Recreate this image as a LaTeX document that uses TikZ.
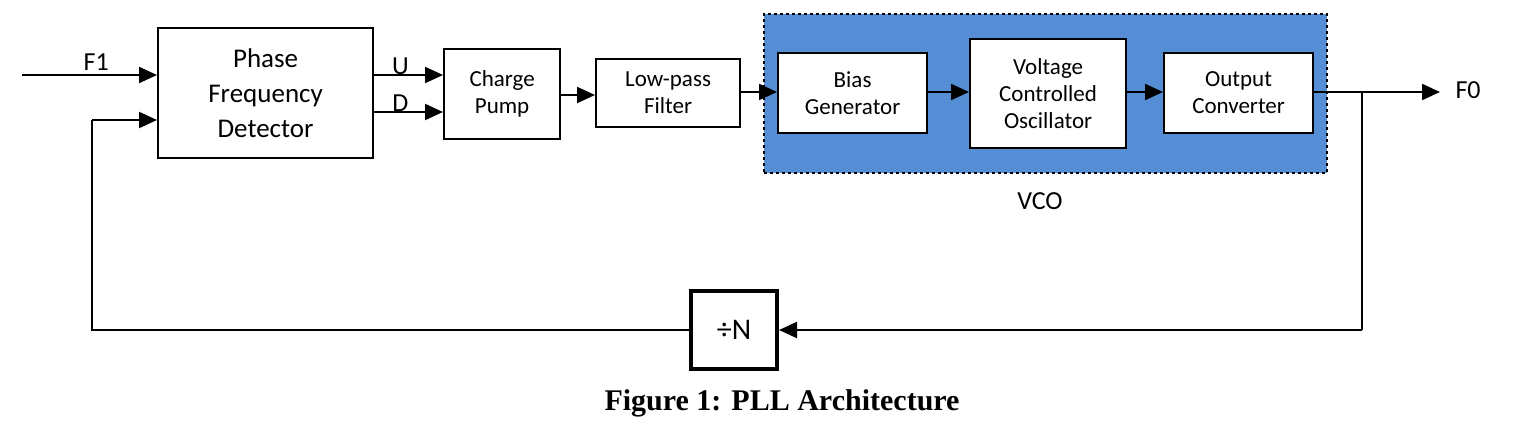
\documentclass[tikz,border=0pt]{standalone}
\usepackage{fontspec}
\setmainfont{Carlito}
\newfontfamily\capfont{Liberation Serif}
\usetikzlibrary{arrows.meta}
\definecolor{vcoblue}{HTML}{558ED5}
\begin{document}
\begin{tikzpicture}[x=1pt,y=-1pt,
  blk/.style={draw,line width=2.2pt,fill=white,align=center,inner sep=0pt,font=\fontsize{23}{27}\selectfont},
  arr/.style={line width=2.2pt,-{Triangle[length=18pt,width=16pt]}},
  ln/.style={line width=2.2pt},
  lbl/.style={font=\fontsize{26}{30}\selectfont}]
\useasboundingbox (0,0) rectangle (1524,423);
\node[draw,line width=2pt,dashed,fill=vcoblue,minimum width=563pt,minimum height=159pt,anchor=north west] (vco) at (763,13) {};
\node[lbl] (vcol) at (1040,201) {VCO};
\node[blk,minimum width=215pt,minimum height=130pt,anchor=north west,font=\fontsize{27}{35}\selectfont] (pfd) at (157,27) {Phase\\Frequency\\Detector};
\node[blk,minimum width=116pt,minimum height=90pt,anchor=north west] (cp) at (443,48) {Charge\\Pump};
\node[blk,minimum width=144pt,minimum height=68pt,anchor=north west] (lpf) at (595,58) {Low-pass\\Filter};
\node[blk,minimum width=149pt,minimum height=80pt,anchor=north west] (bias) at (777,52) {Bias\\Generator};
\node[blk,minimum width=156pt,minimum height=109pt,anchor=north west] (osc) at (969,38) {Voltage\\Controlled\\Oscillator};
\node[blk,minimum width=149pt,minimum height=80pt,anchor=north west] (out) at (1163,52) {Output\\Converter};
\node[draw,line width=4pt,minimum width=86pt,minimum height=78pt,font=\fontsize{30}{34}\selectfont] (div) at (734,330) {÷N};
\coordinate (f1s) at (22,75);
\coordinate (fbl) at (92,330);
\coordinate (fbt) at (92,120);
\coordinate (tap) at (1362,92);
\coordinate (tapd) at (1362,330);
\coordinate (fo) at (1440,92);
\draw[arr] (f1s) -- (f1s -| pfd.west) node[pos=0.55,above,lbl] {F1};
\draw[ln] (div.west) -- (fbl) -- (fbt);
\draw[arr] (fbt) -- (fbt -| pfd.west);
\draw[arr] (372,75) -- (443,75) node[pos=0.4,above,lbl,yshift=-4pt] {U};
\draw[arr] (372,112) -- (443,112) node[pos=0.4,above,lbl,yshift=-4pt] {D};
\draw[arr] (cp.east |- 0,95) -- (lpf.west |- 0,95);
\draw[arr] (lpf.east |- 0,92) -- (bias.west |- 0,92);
\draw[arr] (bias.east |- 0,92) -- (osc.west |- 0,92);
\draw[arr] (osc.east |- 0,92) -- (out.west |- 0,92);
\draw[arr] (out.east |- 0,92) -- (fo);
\node[lbl,anchor=west] (fol) at (1452,90) {F0};
\draw[ln] (tap) -- (tapd);
\draw[arr] (tapd) -- (div.east);
\node[font=\capfont\bfseries\fontsize{30}{34}\selectfont] (cap) at (782,403) {Figure 1: PLL Architecture};
\end{tikzpicture}
\end{document}
